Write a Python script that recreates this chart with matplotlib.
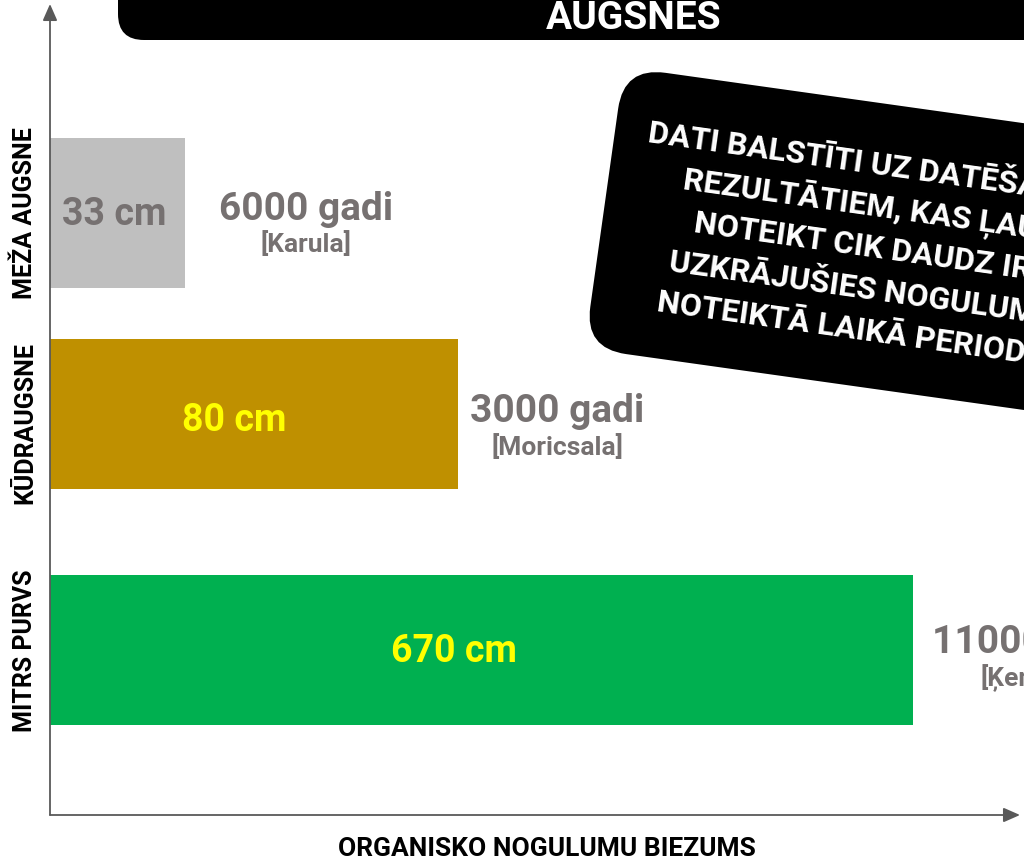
import numpy as np
import matplotlib
matplotlib.use("Agg")
import matplotlib.pyplot as plt
from matplotlib.patches import FancyBboxPatch
from matplotlib.transforms import Affine2D

plt.rcParams['font.family'] = ['Roboto', 'DejaVu Sans']
plt.rcParams['font.weight'] = 'bold'

# organic deposit thickness per soil type
soil_types = ['MEŽA AUGSNE', 'KŪDRAUGSNE', 'MITRS PURVS']
thickness_cm = [33, 80, 670]
age_years = [6000, 3000, 11000]
sites = ['Karula', 'Moricsala', 'Ķemeri']

bar_colors = ['#bfbfbf', '#bf9000', '#00b050']
value_colors = ['#767171', '#ffff00', '#ffff00']
grey_text = '#767171'
axis_color = '#595959'

note_lines = ['DATI BALSTĪTI UZ DATĒŠANAS',
              'REZULTĀTIEM, KAS ĻAUJ',
              'NOTEIKT CIK DAUDZ IR',
              'UZKRĀJUŠIES NOGULUMI',
              'NOTEIKTĀ LAIKĀ PERIODĀ']

# schematic (non-linear) thickness axis, cm -> pixels along the axis
axis_cm = [0, 33, 80, 670, 800]
axis_px = [0, 135, 408, 863, 968]


def fwd(v):
    return np.interp(v, axis_cm, axis_px)


def inv(p):
    return np.interp(p, axis_px, axis_cm)


W, H = 1024, 860
fig = plt.figure(figsize=(W / 100, H / 100), dpi=100)

# bar area: x from 50 to 1018 px, y from 815 up to 8 px
ax = fig.add_axes([50 / W, 45 / H, 968 / W, 807 / H])
ax.set_xscale('function', functions=(fwd, inv))
ax.set_xlim(0, 800)
ax.set_ylim(0, 807)
row_centre = [602, 401, 165]
row_height = 150
ax.barh(row_centre, thickness_cm, height=row_height, left=0, color=bar_colors)
ax.axis('off')

# overlay in image pixels (y measured upwards) for decoration and labels
ov = fig.add_axes([0, 0, 1, 1], zorder=5)
ov.set_xlim(0, W)
ov.set_ylim(0, H)
ov.axis('off')
ov.patch.set_alpha(0)


def Y(y):
    return H - y


# axes with arrow heads
arrow = dict(arrowstyle='-|>,head_length=0.5,head_width=0.22', color=axis_color,
             lw=1.3, mutation_scale=20, shrinkA=0, shrinkB=0)
ov.annotate('', xy=(50, Y(4)), xytext=(50, Y(815)), arrowprops=arrow)
ov.annotate('', xy=(1020, Y(815)), xytext=(50, Y(815)), arrowprops=arrow)

# header strip
ov.add_patch(FancyBboxPatch((118, Y(40)), 1000, 100,
                            boxstyle='round,pad=0,rounding_size=26',
                            fc='black', ec='none'))
ov.text(634, Y(29), 'AUGSNES', color='white', fontsize=28,
        ha='center', va='baseline')

# tilted note box
tilt = Affine2D().rotate_deg(-8).translate(624, Y(67)) + ov.transData
ov.add_patch(FancyBboxPatch((0, -284), 540, 284,
                            boxstyle='round,pad=0,rounding_size=42',
                            fc='black', ec='none', transform=tilt))
for i, line in enumerate(note_lines):
    ov.text(262, -(71 + 41.5 * i), line, transform=tilt, rotation=-8,
            rotation_mode='anchor', ha='center', va='baseline',
            color='white', fontsize=23)

# soil type labels
label_y = [213, 423, 651]
for name, y in zip(soil_types, label_y):
    ov.text(32, Y(y), name, rotation=90, rotation_mode='anchor',
            ha='center', va='baseline', color='black', fontsize=18)

# thickness labels inside bars
value_pos = [(114, 225), (234, 431), (454, 662)]
for v, c, (x, y) in zip(thickness_cm, value_colors, value_pos):
    ov.text(x, Y(y), f'{v} cm', color=c, fontsize=27,
            ha='center', va='baseline')

# age and site labels
age_pos = [(306, 220, 252), (557, 422, 455), (1030, 653, 686)]
for a, s, (x, y1, y2) in zip(age_years, sites, age_pos):
    ov.text(x, Y(y1), f'{a} gadi', color=grey_text, fontsize=28,
            ha='center', va='baseline')
    ov.text(x, Y(y2), f'[{s}]', color=grey_text, fontsize=19,
            ha='center', va='baseline')

ov.text(547, Y(856), 'ORGANISKO NOGULUMU BIEZUMS', color='black',
        fontsize=19, ha='center', va='baseline')

fig.savefig('out.png', dpi=100)
